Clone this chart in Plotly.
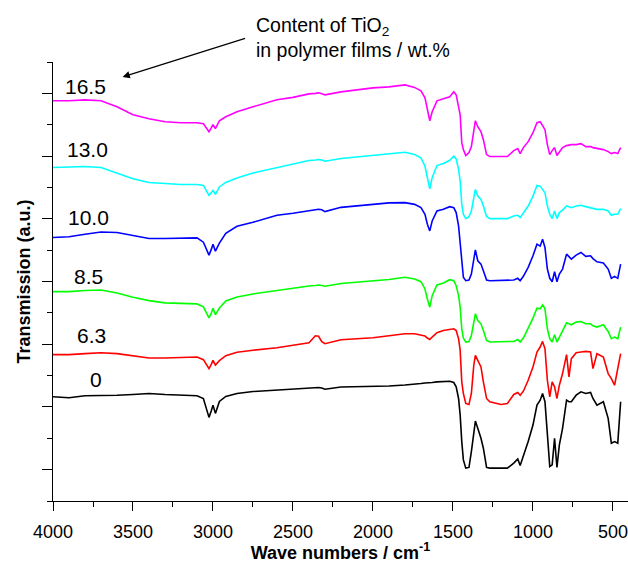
import plotly.graph_objects as go

wavenumber = [4000, 3900, 3800, 3700, 3600, 3500, 3400, 3300, 3200, 3100, 3060, 3025, 3010, 3000, 2985,
              2960, 2920, 2850, 2750, 2600, 2500, 2400, 2360, 2340, 2320, 2300, 2200, 2000, 1900, 1800,
              1740, 1700, 1675, 1660, 1645, 1630, 1600, 1560, 1520, 1495, 1480, 1465, 1455, 1445, 1435,
              1420, 1400, 1385, 1370, 1360, 1345, 1325, 1310, 1290, 1270, 1200, 1160, 1120, 1095, 1080,
              1060, 1030, 1000, 975, 955, 940, 925, 910, 895, 880, 865, 850, 835, 815, 790,
              775, 760, 730, 700, 670, 640, 625, 600, 560, 530, 510, 490, 470, 452]

t_16_5 = [402, 402, 403, 402, 396, 388, 384, 381, 380, 380, 379, 371, 375, 378, 374,
          382, 386, 391, 396, 403, 405.5, 409, 409.5, 410, 409, 408, 411, 415, 416, 418,
          415.5, 412, 405, 395, 382, 391, 402, 404, 406, 411, 408, 396, 388, 360, 353,
          347, 350, 356, 373, 382, 376, 371, 363, 348, 346, 346, 346, 352, 354, 349,
          355, 361, 370, 380, 381, 377, 373, 358, 348, 352, 355, 347, 351, 355, 357,
          357.5, 358, 358, 359, 356, 356, 355, 354, 353, 351, 349, 350, 349, 355]

t_13_0 = [335, 335.5, 336, 335, 329, 323.7, 320, 319, 318, 318, 317, 307, 310, 312, 308,
          315.5, 320, 324.5, 329.5, 335, 338.5, 342, 342.5, 343, 342.5, 341.3, 344, 347, 348.5, 350.3,
          348, 344.7, 336.3, 324.7, 313.7, 324.7, 337, 339, 342.3, 346.3, 343.7, 333, 321.3, 298, 288,
          283.7, 285.7, 291.3, 303, 313, 306.3, 303, 296.3, 285.7, 283.7, 283.7, 283.7, 286.3, 287, 284.7,
          289, 296.3, 306.3, 317, 316.3, 313, 309.7, 296.3, 288, 283.7, 291.3, 283.7, 289.7, 292.3, 296.3,
          295.5, 294.7, 296.3, 297, 295.7, 294.7, 294, 293, 293, 291.3, 287, 288, 288, 293.7]

t_10_0 = [264.7, 265.5, 268, 270.3, 269.7, 267, 263.7, 263.7, 264, 264.3, 260, 247, 253, 258, 251,
          259, 269, 276, 280, 287, 289, 292, 292.5, 293, 292.5, 290.7, 295, 298, 299.5, 299.7,
          298, 294.7, 288, 278, 271.3, 281.3, 291.3, 293, 295.7, 294.7, 289.7, 276.3, 259.7, 236.3, 224.7,
          221.3, 222, 228, 243, 252.3, 241.3, 238, 231.3, 222, 221.3, 221.3, 221.3, 222, 223.7, 221.3,
          225.7, 234.7, 246.3, 258, 256, 263, 254.7, 233, 223.7, 220.3, 230.3, 220.3, 228, 233, 248,
          245.5, 243, 247, 249.7, 245.7, 246.3, 243.5, 240.3, 239, 233, 223.7, 225.7, 223.7, 238]

t_8_5 = [210.3, 210.3, 211.5, 212, 209, 204.7, 201.3, 199, 198.5, 198, 195, 184, 189, 193.7, 187,
         194, 201, 205, 208, 211.7, 213.5, 216, 216.5, 217, 216.5, 215.7, 218.5, 220.7, 222.5, 224.7,
         223, 220.3, 213, 203, 194.7, 206.3, 217, 219, 222.3, 221.3, 216.3, 206.3, 194.7, 173, 163.7,
         159.7, 160.3, 166.3, 179.7, 188, 181.3, 178, 171.3, 161.3, 159.7, 159.7, 159.7, 160.3, 162.3, 159.7,
         163.7, 173, 183.7, 193.7, 193, 197, 193, 173, 163, 159.7, 167, 159.7, 164.7, 169.7, 179,
         178, 177, 179.7, 180.3, 178, 178, 176, 174.7, 177, 170.3, 163, 164.7, 163, 174.7]

t_6_3 = [147, 147, 148, 149, 148, 145.7, 143.7, 143.7, 144.3, 144.7, 142, 133, 137.5, 141.3, 136.5,
         141, 146, 149.5, 151.5, 154, 156.5, 159, 166, 165.5, 160, 158, 162, 164, 166, 168,
         168, 167, 165.7, 163.7, 162.3, 164.7, 169, 171.3, 172.3, 173, 171.3, 163, 151.3, 119.7, 108,
         98, 97, 108, 136.3, 146.3, 141.3, 134.7, 119.7, 103, 99.7, 97, 98, 107, 109, 106.3,
         110.3, 121.3, 134.7, 149.7, 154.7, 160.3, 153, 121.3, 104.7, 119.7, 114.7, 103, 116.3, 128, 147,
         124.7, 143, 149, 149.7, 150.3, 149.7, 133, 148, 144.7, 128, 123, 116.3, 133, 148]

t_0 = [104.7, 103.7, 105.7, 105.7, 106.3, 107, 108, 107, 106.5, 105.7, 103, 84, 91, 96.3, 88,
       100, 105, 108, 110, 111.5, 112.5, 114, 114, 114, 113.5, 112.3, 114.5, 115, 115.5, 116.5,
       117, 118, 118.5, 118.5, 119, 119, 119.7, 120.3, 120.3, 119, 114.7, 103, 86.3, 59.7, 41.3,
       33, 33.7, 49.7, 68, 80.3, 73, 63, 53, 33.7, 33, 33, 33, 38, 42.3, 35.7,
       44.7, 59.7, 76.3, 96.3, 101.3, 108, 99.7, 66.3, 34.7, 36.3, 63, 33.7, 56.3, 73, 101.3,
       99.7, 99.7, 106.3, 109.7, 108, 109, 103, 96.3, 99.7, 83, 58, 59.7, 58, 99.7]

series_names = ["16.5", "13.0", "10.0", "8.5", "6.3", "0"]
series_values = [t_16_5, t_13_0, t_10_0, t_8_5, t_6_3, t_0]
series_colors = ["#FF00FF", "#00FFFF", "#0000FF", "#00FF00", "#FF0000", "#000000"]

# label positions (wavenumber, transmission)
label_x = [3796, 3786, 3777, 3777, 3758, 3733]
label_y = [416, 353, 285, 226, 166, 122]

x_ticks = [4000, 3500, 3000, 2500, 2000, 1500, 1000, 500]

FONT = "Liberation Sans, Arial, Helvetica, sans-serif"

fig = go.Figure()
for name, vals, col in zip(series_names, series_values, series_colors):
    fig.add_trace(go.Scatter(x=wavenumber, y=vals, mode="lines", name=name,
                             line=dict(color=col, width=1.6), showlegend=False))

for name, lx, ly in zip(series_names, label_x, label_y):
    fig.add_annotation(x=lx, y=ly, xref="x", yref="y", text=name, showarrow=False,
                       font=dict(size=21, color="black", family=FONT), xanchor="center", yanchor="middle")

fig.add_annotation(x=0.349, y=1.115, xref="paper", yref="paper", xanchor="left", yanchor="top",
                   align="left", showarrow=False,
                   text="Content of TiO<sub>2</sub><br>in polymer films / wt.%",
                   font=dict(size=19.5, color="black", family=FONT))
fig.add_annotation(x=3565, y=426, xref="x", yref="y", text="", showarrow=True,
                   ax=124, ay=-39, arrowhead=2, arrowsize=1.2, arrowwidth=1.2, arrowcolor="black")

fig.update_layout(
    width=628, height=563,
    margin=dict(l=53, r=0, t=62, b=60),
    paper_bgcolor="white", plot_bgcolor="white",
    font=dict(family=FONT, color="black", size=18),
    xaxis=dict(range=[4000, 406], tickvals=x_ticks, ticktext=[str(v) for v in x_ticks],
               ticks="outside", ticklen=9, tickwidth=1, tickcolor="black", ticklabelstandoff=5,
               minor=dict(dtick=250, tick0=0, ticks="outside", ticklen=5, tickcolor="black", tickwidth=1),
               showline=True, linecolor="black", linewidth=1, showgrid=False, zeroline=False,
               tickfont=dict(size=18, family=FONT),
               title=dict(text="<b>Wave numbers / cm<sup>-1</sup></b>", font=dict(size=18, family=FONT), standoff=9)),
    yaxis=dict(range=[0, 441], tick0=31.5, dtick=63, showticklabels=False,
               ticks="outside", ticklen=10, tickwidth=1, tickcolor="black",
               minor=dict(dtick=31.5, tick0=0, ticks="outside", ticklen=5, tickcolor="black", tickwidth=1),
               showline=True, linecolor="black", linewidth=1, showgrid=False, zeroline=False,
               title=dict(text="<b>Transmission (a.u.)</b>", font=dict(size=18, family=FONT), standoff=6)),
)

fig.write_html("out.html")
